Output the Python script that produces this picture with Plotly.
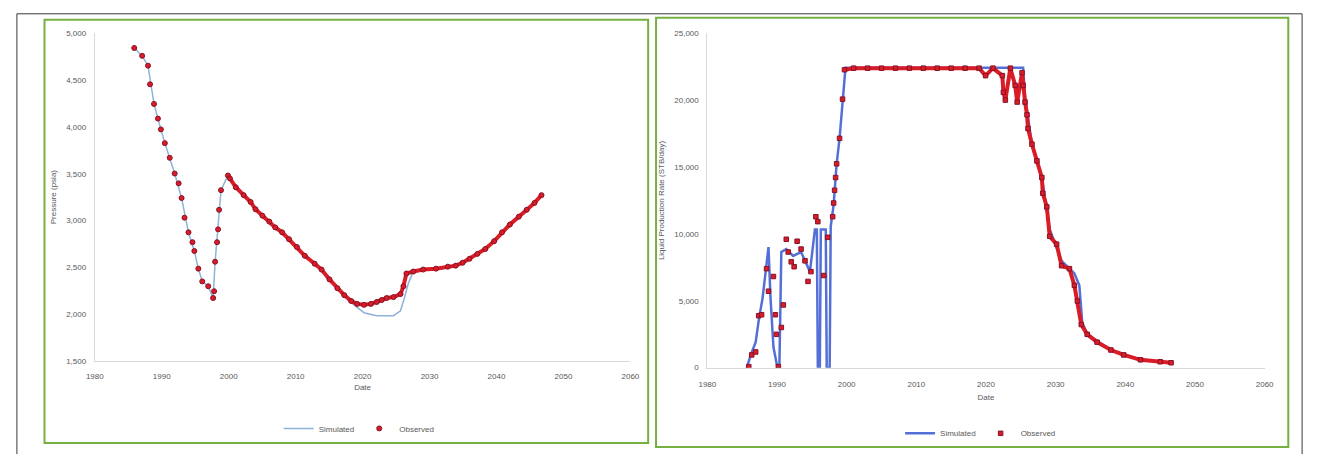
import plotly.graph_objects as go

# ---------------- data ----------------
x_ticks = [1980, 1990, 2000, 2010, 2020, 2030, 2040, 2050, 2060]
left_y_ticks = [1500, 2000, 2500, 3000, 3500, 4000, 4500, 5000]
right_y_ticks = [0, 5000, 10000, 15000, 20000, 25000]

left_years_obs = [1985.89, 1987.07, 1987.95, 1988.25, 1988.84, 1989.43, 1989.87, 1990.46, 1991.19, 1991.93,
                  1992.52, 1992.96, 1993.40, 1993.99, 1994.58, 1994.87, 1995.46, 1996.05, 1996.94, 1997.67,
                  1997.82, 1997.97, 1998.26, 1998.41, 1998.56, 1998.85, 1999.88,
                  2000.18, 2001.06, 2002.24, 2003.27, 2004.00, 2005.04, 2006.07, 2006.95, 2007.98, 2009.01,
                  2010.19, 2011.37, 2012.84, 2013.87, 2015.05, 2016.23, 2017.26, 2018.29, 2019.18, 2020.21,
                  2021.24, 2022.12, 2022.86, 2023.59, 2024.62, 2025.66, 2026.10, 2026.54, 2027.57, 2029.04,
                  2030.96, 2032.72, 2033.90, 2034.93, 2035.96, 2037.14, 2038.32, 2039.65, 2040.82, 2042.00,
                  2043.33, 2044.51, 2045.68, 2046.72]
left_pressure_obs = [4844, 4760, 4655, 4456, 4246, 4089, 3974, 3827, 3670, 3502,
                     3397, 3240, 3030, 2873, 2768, 2674, 2485, 2349, 2297, 2171,
                     2244, 2559, 2768, 2905, 3114, 3324, 3481,
                     3450, 3355, 3271, 3198, 3120, 3051, 2988, 2926, 2873, 2800,
                     2716, 2622, 2538, 2475, 2370, 2276, 2202, 2139, 2108, 2098,
                     2108, 2129, 2150, 2171, 2181, 2213, 2297, 2433, 2454, 2475,
                     2485, 2506, 2517, 2548, 2590, 2643, 2695, 2779, 2873, 2957,
                     3041, 3114, 3188, 3271]

left_years_sim = [1985.89, 1987.07, 1987.95, 1988.84, 1989.87, 1990.46, 1991.93, 1992.96, 1993.99, 1994.87,
                  1995.46, 1996.05, 1996.94, 1997.67, 1997.97, 1998.41, 1998.85, 1999.88, 2002.24, 2005.04,
                  2007.98, 2011.37, 2013.87, 2016.23, 2018.29, 2020.21, 2022.12, 2024.62, 2025.66, 2026.24,
                  2026.83, 2027.57, 2030.96, 2033.90, 2035.96, 2038.32, 2040.82, 2043.33, 2045.68, 2046.72]
left_pressure_sim = [4844, 4760, 4655, 4246, 3974, 3827, 3502, 3240, 2873, 2674,
                     2485, 2349, 2297, 2171, 2559, 2905, 3324, 3481, 3271, 3051,
                     2873, 2622, 2475, 2276, 2120, 2014, 1982, 1982, 2035, 2171,
                     2328, 2454, 2485, 2517, 2590, 2695, 2873, 3041, 3188, 3271]

right_years_obs = [1985.95, 1986.37, 1986.94, 1987.37, 1987.79, 1988.50, 1988.78, 1989.49, 1989.77, 1989.92,
                   1990.20, 1990.62, 1990.91, 1991.33, 1991.61, 1992.04, 1992.46, 1992.89, 1993.46, 1994.02,
                   1994.45, 1994.87, 1995.58, 1995.86, 1996.71, 1997.28, 1997.99, 1998.13, 1998.27, 1998.41,
                   1998.56, 1998.98, 1999.41, 1999.69,
                   2001.0, 2003.0, 2005.0, 2007.0, 2009.0, 2011.0, 2013.0, 2015.0, 2017.0, 2019.0,
                   2019.94, 2021.0, 2022.35, 2022.50, 2022.78, 2023.50, 2024.19, 2024.48, 2025.18, 2025.33,
                   2025.61, 2025.89, 2026.03, 2026.60, 2027.31, 2028.02, 2028.16, 2028.73, 2029.15, 2030.14,
                   2030.85, 2031.98, 2032.69, 2033.12, 2033.68, 2034.53, 2035.95, 2037.93, 2039.77, 2042.18,
                   2045.01, 2046.57]
right_rate_obs = [73, 953, 1173, 3885, 3958, 7403, 5717, 6817, 3958, 2492,
                  73, 3005, 4691, 9602, 8649, 7916, 7550, 9456, 8869, 7990,
                  6450, 7183, 11288, 10922, 6890, 9749, 11288, 12314, 13267, 14220,
                  15246, 17152, 20084, 22283,
                  22400, 22400, 22400, 22400, 22400, 22400, 22400, 22400, 22400, 22400,
                  21843, 22400, 21843, 20597, 20011, 22400, 21110, 19864, 22063, 21110,
                  19864, 18911, 17885, 16712, 15466, 14220, 13047, 12021, 9822, 9236,
                  7623, 7403, 6157, 4984, 3225, 2492, 1906, 1319, 953, 586,
                  440, 367]

right_years_sim = [1985.67, 1986.23, 1986.94, 1987.37, 1987.93, 1988.36, 1988.78, 1989.07, 1989.49, 1990.06,
                   1990.34, 1990.62, 1991.33, 1992.32, 1993.46, 1994.73, 1995.44, 1995.72, 1995.86, 1996.15,
                   1996.29, 1997.00, 1997.14, 1997.56, 1997.71, 1998.13, 1998.56, 1998.98, 1999.41, 1999.83,
                   2025.33, 2025.61, 2026.60, 2028.02, 2029.15, 2030.85, 2032.69, 2033.40, 2033.82, 2034.53,
                   2037.93, 2042.18, 2046.57]
right_rate_sim = [0, 953, 1906, 3518, 5204, 7037, 9016, 5204, 1539, 0,
                  0, 8649, 8869, 8356, 8649, 7183, 10335, 10335, 0, 0,
                  10335, 10335, 0, 0, 10555, 12168, 15246, 17152, 20084, 22430,
                  22430, 20231, 16712, 14220, 10335, 7990, 7037, 6157, 3372, 2492,
                  1319, 586, 367]

left_names = ["Simulated", "Observed"]
right_names = ["Simulated", "Observed"]
left_y_title = "Pressure (psia)"
right_y_title = "Liquid Production Rate (STB/day)"
x_title = "Date"

# ---------------- styles ----------------
W, H = 1319, 454
RED = "#DA1C26"
RED_EDGE = "#86122A"
TXT = "#595959"
FONT = "Liberation Sans, Arial, sans-serif"

left_dense_start = left_years_obs.index(1999.88)
right_dense_start = right_years_obs.index(1999.69)

fig = go.Figure()

# left chart
fig.add_trace(go.Scatter(x=left_years_sim, y=left_pressure_sim, mode="lines", name=left_names[0],
                         line=dict(color="#8DB3D8", width=1.5), xaxis="x", yaxis="y", legend="legend"))
fig.add_trace(go.Scatter(x=left_years_obs[left_dense_start:], y=left_pressure_obs[left_dense_start:],
                         mode="lines", showlegend=False, hoverinfo="skip",
                         line=dict(color=RED, width=4), xaxis="x", yaxis="y"))
fig.add_trace(go.Scatter(x=left_years_obs, y=left_pressure_obs, mode="markers", name=left_names[1],
                         marker=dict(symbol="circle", size=5, color=RED, line=dict(color=RED_EDGE, width=1)),
                         xaxis="x", yaxis="y", legend="legend"))

# right chart
fig.add_trace(go.Scatter(x=right_years_sim, y=right_rate_sim, mode="lines", name=right_names[0],
                         line=dict(color="#5470D6", width=2.5), xaxis="x2", yaxis="y2", legend="legend2"))
fig.add_trace(go.Scatter(x=right_years_obs[right_dense_start:], y=right_rate_obs[right_dense_start:],
                         mode="lines", showlegend=False, hoverinfo="skip",
                         line=dict(color=RED, width=4), xaxis="x2", yaxis="y2"))
fig.add_trace(go.Scatter(x=right_years_obs, y=right_rate_obs, mode="markers", name=right_names[1],
                         marker=dict(symbol="square", size=4.5, color=RED, line=dict(color=RED_EDGE, width=1)),
                         xaxis="x2", yaxis="y2", legend="legend2"))

axis_common = dict(showgrid=False, zeroline=False, showline=True, linecolor="#D9D9D9", linewidth=1,
                   ticks="", tickfont=dict(size=8, color=TXT, family=FONT), fixedrange=True)

fig.update_layout(
    width=W, height=H,
    margin=dict(l=0, r=0, t=0, b=0),
    paper_bgcolor="white", plot_bgcolor="white",
    font=dict(family=FONT, color=TXT, size=8),
    xaxis=dict(axis_common, domain=[87 / W, 630 / W], range=[x_ticks[0], x_ticks[-1]],
               tickvals=x_ticks, ticktext=[str(t) for t in x_ticks], anchor="y",
               ticklabelstandoff=8,
               title=dict(text=x_title, font=dict(size=8, color=TXT), standoff=4)),
    yaxis=dict(axis_common, domain=[1 - 364 / H, 1 - 30 / H], range=[left_y_ticks[0], left_y_ticks[-1]],
               tickvals=left_y_ticks, tickformat=",", anchor="x", ticklabelstandoff=6,
               title=dict(text=left_y_title, font=dict(size=8, color=TXT), standoff=8)),
    xaxis2=dict(axis_common, domain=[708 / W, 1273 / W], range=[x_ticks[0], x_ticks[-1]],
                tickvals=x_ticks, ticktext=[str(t) for t in x_ticks], anchor="y2",
                ticklabelstandoff=9,
                title=dict(text=x_title, font=dict(size=8, color=TXT), standoff=6)),
    yaxis2=dict(axis_common, domain=[1 - 371 / H, 1 - 30 / H], range=[right_y_ticks[0], right_y_ticks[-1]],
                tickvals=right_y_ticks, tickformat=",", anchor="x2", ticklabelstandoff=6,
                title=dict(text=right_y_title, font=dict(size=8, color=TXT), standoff=8)),
    legend=dict(orientation="h", x=355 / W, xanchor="center", y=1 - 433 / H, yanchor="middle",
                font=dict(size=8, color=TXT), bgcolor="rgba(0,0,0,0)", itemwidth=30, tracegroupgap=0),
    legend2=dict(orientation="h", x=985 / W, xanchor="center", y=1 - 438 / H, yanchor="middle",
                 font=dict(size=8, color=TXT), bgcolor="rgba(0,0,0,0)", itemwidth=30),
    shapes=[
        dict(type="rect", xref="paper", yref="paper", x0=8 / W, x1=1311 / W, y0=-0.05, y1=1 - 10 / H,
             line=dict(color="#3A3A3A", width=1), layer="below"),
        dict(type="rect", xref="paper", yref="paper", x0=36 / W, x1=648 / W, y0=1 - 448 / H, y1=1 - 16 / H,
             line=dict(color="#77B041", width=2), layer="below"),
        dict(type="rect", xref="paper", yref="paper", x0=656 / W, x1=1297 / W, y0=1 - 452 / H, y1=1 - 14 / H,
             line=dict(color="#77B041", width=2), layer="below"),
    ],
)

fig.write_html("out.html")
